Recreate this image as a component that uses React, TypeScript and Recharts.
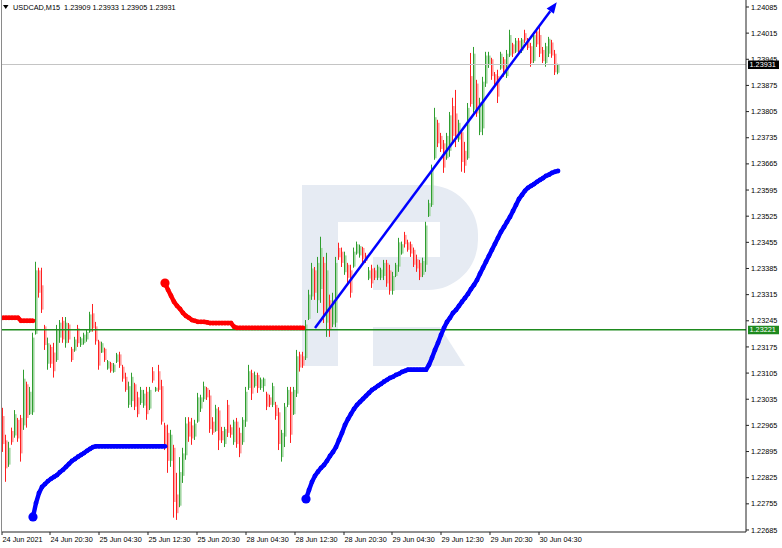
import { Bar, ComposedChart, Line, ReferenceLine, XAxis, YAxis } from 'recharts';

const FONT = '"Liberation Sans", Arial, sans-serif';
const W = 782;
const H = 548;

const BULL = '#2f9e2f';
const BULL_BODY = '#a3d6a3';
const BEAR = '#ff2020';
const BEAR_BODY = '#ff9e9e';
const SAR_RED = '#ff0000';
const SAR_BLUE = '#0000ff';
const LEVEL_GREEN = '#1e8a1e';

// prices are kept in points above 1.20000 (1 pt = 0.00001)
const BASE = 1.2;

const OPEN = [
  2990, 2925, 2860, 2950, 2938, 2980, 2985, 2965, 3075, 2995,
  3000, 3210, 3380, 3340, 3230, 3130, 3175, 3160, 3140, 3200,
  3245, 3185, 3235, 3170, 3165, 3225, 3180, 3185, 3195, 3215,
  3265, 3230, 3190, 3160, 3170, 3117, 3132, 3108, 3135, 3155,
  3122, 3095, 3020, 3030, 3075, 3040, 3025, 3018, 3055, 3010,
  3110, 3057, 3110, 3070, 2965, 2945, 2870, 2905, 2780, 2750,
  2830, 2885, 2975, 2965, 2935, 2975, 3010, 3035, 3065, 3045,
  2975, 2950, 3005, 2950, 2915, 3020, 2960, 2920, 2975, 2945,
  2920, 2975, 3065, 3105, 3070, 3100, 3065, 3070, 3050, 3040,
  3020, 3020, 3000, 2880, 2935, 3020, 3055, 2995, 3050, 3155,
  3150, 3145, 3250, 3310, 3380, 3300, 3330, 3400, 3240, 3300,
  3235, 3240, 3440, 3430, 3375, 3395, 3380, 3390, 3425, 3420,
  3440, 3420, 3358, 3385, 3380, 3360, 3360, 3365, 3400, 3380,
  3325, 3365, 3390, 3425, 3475, 3455, 3450, 3435, 3410, 3400,
  3368, 3395, 3525, 3555, 3680, 3775, 3740, 3720, 3680, 3700,
  3820, 3800, 3730, 3750, 3700, 3680, 3900, 3810, 3880, 3750,
  3760, 3880, 3930, 3945, 3905, 3900, 3920, 3945, 3900, 3955,
  3985, 3965, 3995, 3968, 4015, 3998, 3980, 3940, 4020, 4010,
  3970, 3935, 3960, 3990, 3960, 3909,
];

const HIGH = [
  3012, 2940, 2921, 2959, 3006, 2985, 2993, 3114, 3082, 3068,
  3213, 3403, 3387, 3387, 3234, 3200, 3181, 3186, 3234, 3247,
  3255, 3255, 3239, 3175, 3202, 3234, 3202, 3213, 3221, 3269,
  3290, 3242, 3194, 3189, 3173, 3140, 3135, 3132, 3159, 3162,
  3127, 3106, 3082, 3106, 3079, 3055, 3068, 3060, 3068, 3068,
  3121, 3068, 3127, 3087, 2972, 2967, 2953, 2913, 2838, 2880,
  2905, 2987, 2987, 2985, 2980, 3052, 3047, 3082, 3068, 3060,
  2987, 3020, 3014, 2961, 2961, 3033, 2967, 2980, 2985, 2959,
  2987, 3068, 3127, 3114, 3109, 3106, 3093, 3093, 3055, 3047,
  3079, 3028, 3012, 2953, 3025, 3068, 3068, 3068, 3167, 3162,
  3162, 3247, 3328, 3400, 3389, 3416, 3470, 3416, 3427, 3315,
  3320, 3416, 3454, 3441, 3430, 3400, 3395, 3441, 3457, 3449,
  3443, 3427, 3389, 3395, 3387, 3395, 3387, 3408, 3408, 3395,
  3376, 3400, 3467, 3457, 3483, 3462, 3457, 3441, 3422, 3408,
  3414, 3510, 3569, 3663, 3815, 3783, 3748, 3729, 3748, 3804,
  3842, 3863, 3783, 3756, 3724, 3828, 3962, 3978, 3890, 3842,
  3898, 3965, 3965, 3949, 3911, 3917, 3965, 3951, 3970, 4024,
  3989, 4002, 4002, 4002, 4024, 4002, 3989, 4018, 4029, 4032,
  3978, 3989, 4005, 3997, 3970, 3933,
];

const LOW = [
  2894, 2814, 2854, 2913, 2932, 2921, 2868, 2953, 2959, 2993,
  2993, 3208, 3307, 3266, 3167, 3114, 3119, 3093, 3135, 3186,
  3186, 3173, 3186, 3135, 3162, 3175, 3175, 3181, 3189, 3213,
  3216, 3181, 3114, 3159, 3135, 3114, 3106, 3106, 3132, 3119,
  3082, 3055, 3012, 3014, 3006, 2987, 3020, 3012, 2980, 3006,
  3079, 3055, 3055, 2967, 2899, 2838, 2854, 2718, 2712, 2746,
  2811, 2873, 2921, 2913, 2926, 2972, 3001, 3028, 3033, 2945,
  2940, 2948, 2899, 2918, 2907, 2934, 2932, 2913, 2905, 2880,
  2913, 2961, 3060, 3033, 3066, 3052, 3060, 3055, 3006, 3014,
  3014, 2980, 2899, 2868, 2907, 3014, 2918, 2993, 3041, 3109,
  3119, 3140, 3247, 3301, 3301, 3266, 3293, 3239, 3202, 3202,
  3228, 3228, 3408, 3389, 3368, 3346, 3307, 3387, 3422, 3414,
  3400, 3400, 3354, 3333, 3354, 3354, 3354, 3354, 3336, 3315,
  3315, 3362, 3376, 3422, 3441, 3430, 3416, 3389, 3376, 3354,
  3362, 3376, 3523, 3550, 3676, 3710, 3697, 3641, 3676, 3684,
  3721, 3710, 3724, 3644, 3641, 3676, 3818, 3802, 3791, 3742,
  3742, 3871, 3922, 3890, 3871, 3828, 3917, 3898, 3895, 3951,
  3951, 3962, 3957, 3962, 3989, 3970, 3925, 3935, 3978, 3951,
  3935, 3925, 3951, 3949, 3903, 3905,
];

const CLOSE = [
  2915, 2850, 2905, 2920, 2995, 2930, 2890, 3090, 2985, 3055,
  3200, 3380, 3320, 3275, 3180, 3185, 3130, 3110, 3220, 3240,
  3195, 3240, 3195, 3140, 3195, 3185, 3198, 3208, 3215, 3262,
  3225, 3190, 3125, 3185, 3140, 3137, 3110, 3128, 3155, 3125,
  3090, 3060, 3070, 3095, 3015, 2995, 3060, 3050, 2995, 3060,
  3085, 3066, 3060, 2975, 2905, 2870, 2940, 2760, 2730, 2840,
  2890, 2970, 2935, 2930, 2970, 3040, 3040, 3070, 3040, 2955,
  2945, 3010, 2925, 2925, 2955, 2945, 2940, 2975, 2915, 2890,
  2980, 3055, 3110, 3050, 3100, 3065, 3088, 3090, 3015, 3020,
  3070, 2990, 2915, 2945, 3015, 3060, 2940, 3060, 3150, 3120,
  3125, 3235, 3315, 3385, 3320, 3400, 3440, 3260, 3380, 3220,
  3300, 3400, 3415, 3400, 3420, 3360, 3320, 3430, 3450, 3445,
  3410, 3405, 3380, 3345, 3360, 3390, 3382, 3400, 3345, 3325,
  3365, 3395, 3455, 3450, 3450, 3435, 3425, 3395, 3385, 3362,
  3405, 3500, 3560, 3650, 3790, 3720, 3705, 3655, 3740, 3795,
  3740, 3730, 3775, 3670, 3660, 3815, 3825, 3960, 3800, 3830,
  3885, 3955, 3955, 3900, 3880, 3845, 3960, 3905, 3960, 4010,
  3960, 3995, 3965, 3998, 3995, 3975, 3935, 4010, 3985, 3960,
  3940, 3980, 4000, 3955, 3910, 3931,
];

// indicator dots, each run starts at a candle index
const RED_SAR = [
  { from: 0, pts: [3253, 3253, 3253, 3253, 3253, 3253, 3245, 3245, 3245, 3245, 3245] },
  {
    from: 54,
    pts: [
      3346, 3328, 3312, 3296, 3285, 3277, 3266, 3258, 3253, 3247,
      3245, 3242, 3242, 3242, 3241, 3239, 3239, 3239, 3239, 3239,
      3239, 3239, 3239, 3229, 3226, 3226, 3226, 3226, 3226, 3226,
      3226, 3226, 3226, 3226, 3226, 3226, 3226, 3226, 3226, 3226,
      3226, 3226, 3226, 3226, 3226, 3226, 3226,
    ],
  },
];

const BLUE_SAR = [
  {
    from: 10,
    pts: [
      2720, 2757, 2784, 2800, 2808, 2816, 2822, 2827, 2832, 2840,
      2846, 2854, 2862, 2870, 2875, 2881, 2886, 2891, 2897, 2902,
      2907, 2909, 2909, 2909, 2909, 2909, 2909, 2909, 2909, 2909,
      2909, 2909, 2909, 2909, 2909, 2909, 2909, 2909, 2909, 2909,
      2909, 2909, 2909, 2909, 2909,
    ],
  },
  {
    from: 101,
    pts: [
      2768, 2792, 2814, 2830, 2841, 2851, 2859, 2870, 2883, 2894,
      2907, 2926, 2945, 2966, 2982, 2996, 3009, 3020, 3028, 3036,
      3044, 3052, 3060, 3065, 3071, 3076, 3082, 3087, 3092, 3095,
      3100, 3103, 3108, 3111, 3114, 3114, 3114, 3114, 3114, 3114,
      3114, 3127, 3146, 3167, 3186, 3207, 3226, 3242, 3253, 3266,
      3274, 3285, 3296, 3306, 3317, 3330, 3341, 3354, 3371, 3387,
      3403, 3419, 3435, 3451, 3467, 3483, 3496, 3510, 3523, 3539,
      3555, 3571, 3582, 3593, 3601, 3606, 3611, 3617, 3622, 3627,
      3633, 3636, 3641, 3644, 3646,
    ],
  },
];

const TREND_FROM = { i: 104, p: 3226 };
const TREND_TO = { i: 184, p: 4091 };
const LEVEL = 3221;

const Y_TICKS = [
  2685, 2755, 2825, 2895, 2965, 3035, 3105, 3175, 3245, 3315, 3385,
  3455, 3525, 3595, 3665, 3735, 3805, 3875, 3945, 4015, 4085,
];
const Y_DOMAIN = [2679.6, 4103.7];
const X_DOMAIN = [-1 / 3, 247 + 2 / 3];
const X_TICKS = [-0.33, 15.67, 32, 48.33, 64.67, 81, 97.33, 113.67, 129.67, 146, 162.33, 178.67];
const X_LABELS = [
  '24 Jun 2021', '24 Jun 20:30', '25 Jun 04:30', '25 Jun 12:30', '25 Jun 20:30', '28 Jun 04:30',
  '28 Jun 12:30', '28 Jun 20:30', '29 Jun 04:30', '29 Jun 12:30', '29 Jun 20:30', '30 Jun 04:30',
];
const SYMBOL = 'USDCAD,M15';

const px = (p: number) => +(BASE + p / 1e5).toFixed(6);
const fmt = (p: number) => (BASE + p / 1e5).toFixed(5);

type Row = {
  i: number; o: number; h: number; l: number; c: number; range: [number, number];
  red: number | null; blue: number | null; redStart?: boolean; blueStart?: boolean;
};

const rows: Row[] = OPEN.map((o, i) => ({
  i, o: px(o), h: px(HIGH[i]), l: px(LOW[i]), c: px(CLOSE[i]),
  range: [px(LOW[i]), px(HIGH[i])], red: null, blue: null,
}));
// a run that begins at the first candle carries on from off-screen, so no start marker
RED_SAR.forEach((seg) => seg.pts.forEach((p, k) => {
  const r = rows[seg.from + k];
  r.red = px(p);
  if (k === 0 && seg.from > 0) r.redStart = true;
}));
BLUE_SAR.forEach((seg) => seg.pts.forEach((p, k) => {
  const r = rows[seg.from + k];
  r.blue = px(p);
  if (k === 0 && seg.from > 0) r.blueStart = true;
}));

const last = OPEN.length - 1;

function Candle(props: any) {
  const { x, y, width, height, payload } = props;
  if (!payload || !Number.isFinite(y) || !Number.isFinite(x)) return <g />;
  const { o, h, l, c } = payload;
  const k = h > l ? height / (h - l) : 0;
  const at = (v: number) => y + (h - v) * k;
  const cx = Math.round(x + width / 2);
  const up = c >= o;
  const top = at(Math.max(o, c));
  const bodyH = Math.max(1, at(Math.min(o, c)) - top);
  return (
    <g>
      <rect x={cx} y={top} width={1.6} height={bodyH} fill={up ? BULL_BODY : BEAR_BODY} />
      <rect x={cx - 1} y={y} width={1} height={Math.max(1, height)} fill={up ? BULL : BEAR} />
    </g>
  );
}

const sarDot = (key: 'red' | 'blue', color: string) => (props: any) => {
  const { cx, cy, payload, index } = props;
  if (cx == null || cy == null || !payload || payload[key] == null) return <g key={`${key}-${index}`} />;
  const start = key === 'red' ? payload.redStart : payload.blueStart;
  return <circle key={`${key}-${index}`} cx={cx} cy={cy} r={start ? 4.6 : 2.4} fill={color} />;
};

function Arrow(props: any) {
  const { x1, y1, x2, y2 } = props;
  if (![x1, y1, x2, y2].every(Number.isFinite)) return <g />;
  const len = Math.hypot(x2 - x1, y2 - y1);
  const ux = (x2 - x1) / len;
  const uy = (y2 - y1) / len;
  const tx = x2 + ux * 3;
  const ty = y2 + uy * 3;
  const bx = tx - ux * 11;
  const by = ty - uy * 11;
  const nx = -uy * 4.5;
  const ny = ux * 4.5;
  return (
    <g>
      <line x1={x1} y1={y1} x2={bx} y2={by} stroke={SAR_BLUE} strokeWidth={2.5} />
      <polygon points={`${tx},${ty} ${bx + nx},${by + ny} ${bx - nx},${by - ny}`} fill={SAR_BLUE} />
    </g>
  );
}

const priceTag = (text: string, bg: string) => (props: any) => {
  const vb = props.viewBox;
  if (!vb) return null;
  const x = vb.x + vb.width + 2;
  const y = vb.y;
  return (
    <g>
      <rect x={x} y={y - 4} width={31} height={8.5} fill={bg} />
      <text x={x + 1.5} y={y + 2.7} fontSize={7.3} fill="#fff">{text}</text>
    </g>
  );
};

function TimeTick(props: any) {
  const { x, y, index } = props;
  return (
    <text x={x + 0.5} y={y + 5} fontSize={7.3} fill="#000" textAnchor="start">
      {X_LABELS[index]}
    </text>
  );
}

export default function App() {
  return (
    <div style={{ position: 'absolute', left: 0, top: 0, width: W, height: H, background: '#fff', fontFamily: FONT }}>
      <svg width={W} height={H} style={{ position: 'absolute', left: 0, top: 0 }}>
        <g fill="#e6ebf3">
          <rect x={302} y={185} width={36} height={181} />
          <path d="M338 185 H428 A50 50 0 0 1 478 235 V240 A50 50 0 0 1 428 290 H373 V257 H440 V222 H338 Z" />
          <path d="M373 327 H440 L465 366 H373 Z" />
        </g>
      </svg>
      <div style={{ position: 'absolute', left: 0, top: 0 }}>
        <ComposedChart width={W} height={H} data={rows} margin={{ top: 0, right: 0, bottom: 0, left: 2 }}>
          <XAxis
            dataKey="i" type="number" domain={X_DOMAIN} allowDataOverflow ticks={X_TICKS} interval={0}
            tick={TimeTick} tickSize={3} height={16}
            axisLine={{ stroke: '#222' }} tickLine={{ stroke: '#222' }}
          />
          <YAxis
            orientation="right" type="number" domain={Y_DOMAIN.map(px)} allowDataOverflow
            ticks={Y_TICKS.map(px)} interval={0} tickFormatter={(v: number) => v.toFixed(5)}
            tick={{ fill: '#000', fontSize: 7.3 }} tickSize={3} tickMargin={2} width={36}
            axisLine={{ stroke: '#222' }} tickLine={{ stroke: '#222' }}
          />
          <ReferenceLine y={px(CLOSE[last])} stroke="#c4c4c4" strokeWidth={1} label={priceTag(fmt(CLOSE[last]), '#000')} />
          <Bar dataKey="range" shape={Candle} barSize={3} isAnimationActive={false} />
          <ReferenceLine y={px(LEVEL)} stroke={LEVEL_GREEN} strokeWidth={1.5} label={priceTag(fmt(LEVEL), LEVEL_GREEN)} />
          <Line
            type="linear" dataKey="red" stroke={SAR_RED} strokeWidth={4.4} dot={sarDot('red', SAR_RED)}
            activeDot={false} connectNulls={false} isAnimationActive={false}
          />
          <Line
            type="linear" dataKey="blue" stroke={SAR_BLUE} strokeWidth={4.4} dot={sarDot('blue', SAR_BLUE)}
            activeDot={false} connectNulls={false} isAnimationActive={false}
          />
          <ReferenceLine
            segment={[{ x: TREND_FROM.i, y: px(TREND_FROM.p) }, { x: TREND_TO.i, y: px(TREND_TO.p) }]}
            shape={Arrow}
          />
        </ComposedChart>
      </div>
      <svg width={W} height={14} style={{ position: 'absolute', left: 0, top: 0 }}>
        <polygon points="3,5 8.5,5 5.75,9" fill="#000" />
        <text x={13} y={9.6} fontSize={7.3} fill="#000" style={{ whiteSpace: 'pre' }}>
          {`${SYMBOL}  ${fmt(OPEN[last])} ${fmt(HIGH[last])} ${fmt(LOW[last])} ${fmt(CLOSE[last])}`}
        </text>
      </svg>
      <div style={{ position: 'absolute', left: 1, top: 0, width: 1, height: 533, background: '#8a8a8a' }} />
    </div>
  );
}
